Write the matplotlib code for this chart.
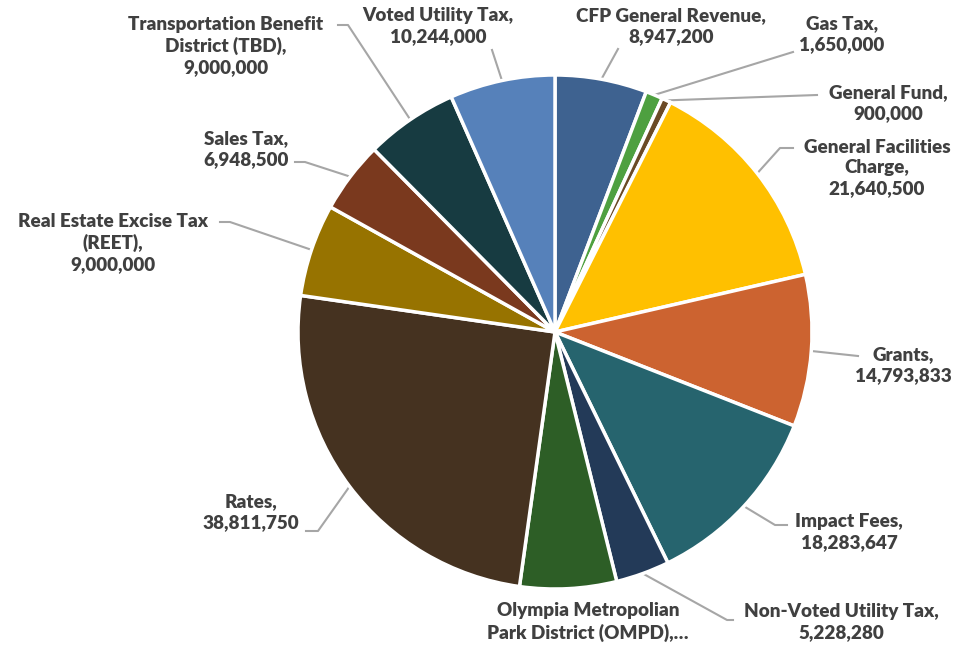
import numpy as np
import matplotlib.pyplot as plt

plt.rcParams['font.family'] = ['Lato', 'DejaVu Sans']

# funding sources, clockwise from 12 o'clock
sources = ["CFP General Revenue", "Gas Tax", "General Fund",
           "General Facilities Charge", "Grants", "Impact Fees",
           "Non-Voted Utility Tax", "Olympia Metropolian Park District (OMPD)",
           "Rates", "Real Estate Excise Tax (REET)", "Sales Tax",
           "Transportation Benefit District (TBD)", "Voted Utility Tax"]
amounts = [8947200, 1650000, 900000, 21640500, 14793833, 18283647,
           5228280, 9400000, 38811750, 9000000, 6948500, 9000000, 10244000]
colors = ["#3E6290", "#4EA040", "#6B4A26", "#FFC000", "#CC6330", "#26646E",
          "#233A58", "#2D5E26", "#453220", "#977300", "#7A391E", "#173B41",
          "#5681BA"]

# label text as wrapped on the chart
label_text = [
    "CFP General Revenue,\n8,947,200",
    "Gas Tax,\n1,650,000",
    "General Fund,\n900,000",
    "General Facilities\nCharge,\n21,640,500",
    "Grants,\n14,793,833",
    "Impact Fees,\n18,283,647",
    "Non-Voted Utility Tax,\n5,228,280",
    "Olympia Metropolian\nPark District (OMPD),\u2026",
    "Rates,\n38,811,750",
    "Real Estate Excise Tax\n(REET),\n9,000,000",
    "Sales Tax,\n6,948,500",
    "Transportation Benefit\nDistrict (TBD),\n9,000,000",
    "Voted Utility Tax,\n10,244,000",
]

W, H = 961, 652
fig = plt.figure(figsize=(W / 100, H / 100), dpi=100)
ax = fig.add_axes([0, 0, 1, 1])

cx, cy, r = 555, H - 332, 257
ax.pie(amounts, colors=colors, startangle=90, counterclock=False,
       center=(cx, cy), radius=r, frame=True,
       wedgeprops=dict(edgecolor='white', linewidth=2.5))
ax.set_xlim(0, W)
ax.set_ylim(0, H)
ax.set_aspect('equal')
ax.axis('off')

# label block centre (x, y from top) and leader path points (from top)
label_pos = [(671, 26), (842, 34), (888, 103), (877, 168), (903, 365),
             (849, 532), (841, 622), (588, 622), (251, 512), (113, 243),
             (246, 149), (226, 46), (438, 26)]
leaders = [
    [(618, 49)],
    [(793, 52)],
    [(817, 95)],
    [(780, 148), (793, 148)],
    [(858, 356)],
    [(775, 525), (787, 525)],
    [(727, 620), (733, 620)],
    None,
    [(318, 531), (306, 531)],
    [(230, 222), (220, 222)],
    [(305, 162), (295, 162)],
    [(348, 25), (338, 25)],
    [(492, 50)],
]

total = sum(amounts)
cum = np.cumsum([0] + amounts[:-1])
for i, (txt, (lx, ly)) in enumerate(zip(label_text, label_pos)):
    ax.text(lx, H - ly, txt, ha='center', va='center', multialignment='center',
            fontsize=13.6, fontweight='heavy', color='#404040', linespacing=1.28)
    if leaders[i] is None:
        continue
    mid = (cum[i] + amounts[i] / 2) / total * 2 * np.pi
    sx = cx + r * np.sin(mid)
    sy = cy + r * np.cos(mid)
    xs = [sx] + [p[0] for p in leaders[i]]
    ys = [sy] + [H - p[1] for p in leaders[i]]
    ax.plot(xs, ys, color='#A6A6A6', linewidth=1.5, zorder=0.5)

fig.savefig('out.png', dpi=100)
